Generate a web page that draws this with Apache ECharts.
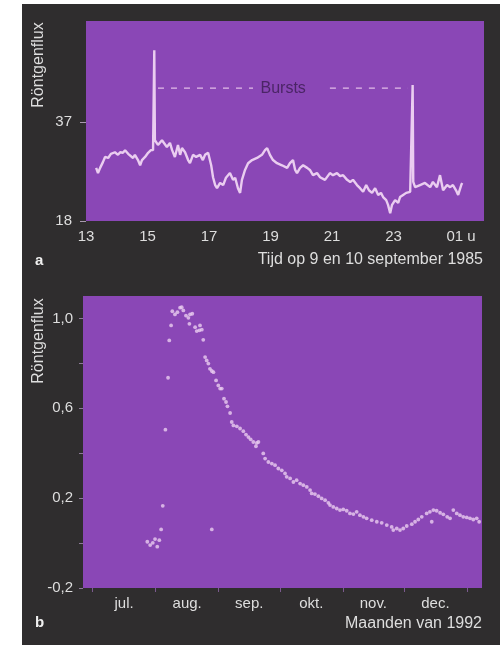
<!DOCTYPE html>
<html><head><meta charset="utf-8">
<script src="https://cdn.jsdelivr.net/npm/echarts@6/dist/echarts.min.js"></script>
<style>
html,body{margin:0;padding:0;background:#fff;}
#bg{position:absolute;left:22px;top:4px;width:478px;height:641px;background:#2f2d2e;}
#c{position:absolute;left:0;top:0;width:502px;height:645px;}
</style>
</head><body><div id="bg"></div><div id="c"></div>
<script>
// Panel a: X-ray flux, 9-10 September 1985
const hoursA = [
13.33,13.39,13.46,13.55,13.62,13.72,13.81,13.94,14.04,14.11,
14.20,14.27,14.37,14.43,14.53,14.59,14.69,14.76,14.82,14.92,
15.02,15.11,15.18,15.20,15.22,15.24,15.34,15.47,15.63,15.73,
15.80,15.89,15.99,16.06,16.12,16.22,16.32,16.38,16.48,16.58,
16.71,16.80,16.87,16.97,17.07,17.13,17.20,17.26,17.36,17.46,
17.55,17.68,17.78,17.85,17.94,18.01,18.07,18.17,18.27,18.40,
18.56,18.72,18.82,18.89,18.98,19.08,19.21,19.37,19.54,19.63,
19.73,19.80,19.86,19.96,20.06,20.19,20.28,20.38,20.51,20.61,
20.77,20.93,21.03,21.16,21.26,21.36,21.49,21.59,21.68,21.81,
21.91,22.01,22.11,22.20,22.30,22.40,22.50,22.59,22.66,22.76,
22.82,22.89,22.95,23.05,23.15,23.21,23.31,23.41,23.54,23.60,
23.62,23.64,23.70,23.86,24.02,24.19,24.28,24.41,24.51,24.61,
24.74,24.84,24.93,25.03,25.10,25.20,25.23];
const fluxA = [
28.2,27.2,28.2,29.3,30.3,30.1,30.9,31.2,30.7,31.2,
31.1,31.6,30.9,31.1,30.1,30.7,29.7,28.7,29.7,30.3,
31.1,31.6,31.6,31.8,50.8,33.5,32.6,33.5,32.2,33.0,
31.6,30.3,32.6,30.7,32.0,31.2,29.7,29.1,30.7,30.3,
30.7,29.7,30.7,31.1,28.7,26.4,24.9,24.3,25.3,24.9,
26.3,27.2,25.9,26.3,24.3,23.4,25.9,27.8,29.1,29.7,
30.1,30.7,31.6,32.0,30.7,29.7,29.1,28.7,28.2,29.1,
29.7,27.8,27.2,28.2,28.7,28.2,27.8,26.8,27.2,26.4,
25.9,27.2,26.8,27.2,26.6,26.8,25.9,25.5,25.9,24.9,
24.3,23.6,24.9,23.9,23.4,24.3,23.0,23.4,22.6,22.0,
21.1,19.5,21.1,22.0,21.5,22.6,23.0,23.4,23.6,23.6,
44.1,25.5,24.5,24.9,25.3,24.5,25.5,24.5,26.8,23.9,
24.9,24.5,24.9,23.9,23.0,24.9,25.3];
const burstSeg1X = [15.34, 18.43];
const burstSeg2X = [20.93, 23.47];
const burstLevel = 43.5;
const burstLabelX = 19.41;
const burstText = 'Bursts';
const xTicksA = [13,15,17,19,21,23,25];
const xTickLabelsA = ['13','15','17','19','21','23','01 u'];
const yTicksA = [18,37];

// Panel b: X-ray flux, months of 1992 (x = days since 1 July)
const daysB = [
26.9,28.3,29.6,30.7,31.8,32.8,33.7,34.5,35.8,37.1,
37.7,38.6,39.2,40.5,41.7,43.0,43.8,44.6,45.9,47.1,
47.6,47.9,49.0,50.4,51.2,52.5,52.8,53.7,54.4,55.3,
56.1,56.9,57.7,58.6,59.4,60.7,61.8,62.7,63.5,64.6,
65.6,66.3,67.6,68.4,69.2,70.9,72.5,74.1,75.4,76.6,
77.7,79.0,80.3,80.7,81.5,83.9,84.8,86.4,88.1,89.7,
91.3,93.0,94.6,95.4,97.1,98.7,100.3,102.0,103.6,105.3,
106.9,107.7,109.3,111.0,112.6,114.3,115.9,116.7,118.3,120.0,
121.6,123.2,124.9,126.5,128.2,129.8,131.4,133.1,134.7,137.2,
139.7,142.1,144.6,147.0,147.8,149.5,151.1,152.7,154.4,156.9,
158.5,160.1,161.8,164.2,165.8,167.5,169.1,170.8,172.4,174.3,
175.7,177.3,179.0,180.6,182.2,183.9,185.5,187.1,188.8,190.0,
58.6,166.7];
const fluxB = [
0.006,-0.009,0.001,0.018,-0.016,0.013,0.061,0.166,0.505,0.736,
0.902,0.969,1.032,1.018,1.028,1.048,1.050,1.036,1.013,1.003,
0.976,1.018,1.021,0.961,0.944,0.947,0.969,0.950,0.905,0.828,
0.813,0.799,0.776,0.766,0.761,0.724,0.702,0.688,0.688,0.643,
0.628,0.609,0.579,0.539,0.524,0.520,0.510,0.498,0.483,0.472,
0.462,0.450,0.431,0.446,0.450,0.399,0.376,0.361,0.354,0.347,
0.332,0.324,0.310,0.295,0.288,0.272,0.280,0.265,0.258,0.250,
0.236,0.221,0.218,0.209,0.199,0.191,0.179,0.169,0.161,0.154,
0.147,0.150,0.144,0.132,0.129,0.139,0.124,0.117,0.110,0.102,
0.095,0.090,0.080,0.072,0.058,0.065,0.058,0.065,0.076,0.084,
0.095,0.105,0.117,0.132,0.139,0.147,0.144,0.135,0.128,0.117,
0.110,0.147,0.132,0.124,0.117,0.114,0.110,0.105,0.110,0.095,
0.061,0.095];
const monthStarts = [0,31,62,92,123,153,184];
const monthNames = ['jul.','aug.','sep.','okt.','nov.','dec.'];
const yTicksB = [-0.2,0,0.2,0.4,0.6,0.8,1.0];
const yLabelsB = [-0.2,0.2,0.6,1.0];

const FONT = "'Liberation Sans', Arial, sans-serif";
const TXT = '#dedede';
const PURPLE = '#8a47b6';
const LINE = '#eacdf0';

const monthMids = monthNames.map((m, i) => (monthStarts[i] + monthStarts[i + 1]) / 2);

const chart = echarts.init(document.getElementById('c'), null, {renderer: 'canvas'});
chart.setOption({
  backgroundColor: 'transparent',
  animation: false,
  grid: [
    {left: 86, top: 21, width: 398, height: 200, show: true, backgroundColor: PURPLE, borderWidth: 0},
    {left: 83, top: 296, width: 399, height: 292, show: true, backgroundColor: PURPLE, borderWidth: 0}
  ],
  xAxis: [
    {gridIndex: 0, type: 'value', min: 13, max: 25.94,
      axisLine: {show: false, onZero: false}, axisTick: {show: false}, splitLine: {show: false},
      axisLabel: {customValues: xTicksA, margin: 8, color: TXT, fontSize: 15, fontFamily: FONT,
        formatter: v => {
          const s = xTickLabelsA[xTicksA.indexOf(v)];
          return s.indexOf(' ') >= 0 ? '{u|' + s + '}' : s;
        },
        rich: {u: {padding: [0, 0, 0, 12], color: TXT, fontSize: 15, fontFamily: FONT}}
      }},
    {gridIndex: 1, type: 'value', min: -4.7, max: 191.4,
      axisLine: {show: false, onZero: false}, splitLine: {show: false},
      axisTick: {show: true, customValues: monthStarts, length: 4, lineStyle: {color: '#7b5a8e', width: 1}},
      axisLabel: {customValues: monthMids, margin: 8, color: TXT, fontSize: 15, fontFamily: FONT,
        formatter: v => monthNames[monthMids.indexOf(v)]}}
  ],
  yAxis: [
    {gridIndex: 0, type: 'value', min: 18, max: 56.4,
      axisLine: {show: false, onZero: false}, splitLine: {show: false},
      axisTick: {show: true, customValues: yTicksA, length: 6, lineStyle: {color: '#a89aae', width: 1}},
      axisLabel: {customValues: yTicksA, margin: 14, color: TXT, fontSize: 15, fontFamily: FONT}},
    {gridIndex: 1, type: 'value', min: -0.2, max: 1.1,
      axisLine: {show: false, onZero: false}, splitLine: {show: false},
      axisTick: {show: true, customValues: yTicksB, length: 4, lineStyle: {color: '#8d7a97', width: 1}},
      axisLabel: {customValues: yLabelsB, margin: 10, color: TXT, fontSize: 15, fontFamily: FONT,
        formatter: v => v.toFixed(1).replace('.', ',')}}
  ],
  series: [
    {type: 'line', xAxisIndex: 0, yAxisIndex: 0, symbol: 'none',
      data: hoursA.map((h, i) => [h, fluxA[i]]),
      lineStyle: {color: LINE, width: 2.4}},
    {type: 'line', xAxisIndex: 0, yAxisIndex: 0, symbol: 'none',
      data: burstSeg1X.map(x => [x, burstLevel]),
      lineStyle: {color: '#e2bde8', width: 1.3, type: [6, 7]},
      markPoint: {symbol: 'rect', symbolSize: 1, itemStyle: {color: 'rgba(0,0,0,0)'},
        data: [{coord: [burstLabelX, burstLevel], value: burstText}],
        label: {show: true, position: 'inside', formatter: burstText, color: '#4b2566', fontSize: 16, fontFamily: FONT}}},
    {type: 'line', xAxisIndex: 0, yAxisIndex: 0, symbol: 'none',
      data: burstSeg2X.map(x => [x, burstLevel]),
      lineStyle: {color: '#e2bde8', width: 1.3, type: [6, 7]}},
    {type: 'scatter', xAxisIndex: 1, yAxisIndex: 1, symbol: 'circle', symbolSize: 3.8,
      data: daysB.map((d, i) => [d, fluxB[i]]),
      itemStyle: {color: LINE}}
  ],
  graphic: [
    {type: 'text', x: 39, y: 65, rotation: Math.PI / 2,
      style: {text: 'Röntgenflux', fill: TXT, font: '16px ' + FONT, textAlign: 'center', textVerticalAlign: 'middle'}},
    {type: 'text', x: 39, y: 341, rotation: Math.PI / 2,
      style: {text: 'Röntgenflux', fill: TXT, font: '16px ' + FONT, textAlign: 'center', textVerticalAlign: 'middle'}},
    {type: 'text', x: 35, y: 261,
      style: {text: 'a', fill: '#f0f0f0', font: 'bold 15px ' + FONT, textAlign: 'left', textVerticalAlign: 'middle'}},
    {type: 'text', x: 483, y: 260,
      style: {text: 'Tijd op 9 en 10 september 1985', fill: TXT, font: '16px ' + FONT, textAlign: 'right', textVerticalAlign: 'middle'}},
    {type: 'text', x: 35, y: 623,
      style: {text: 'b', fill: '#f0f0f0', font: 'bold 15px ' + FONT, textAlign: 'left', textVerticalAlign: 'middle'}},
    {type: 'text', x: 482, y: 624,
      style: {text: 'Maanden van 1992', fill: TXT, font: '16px ' + FONT, textAlign: 'right', textVerticalAlign: 'middle'}}
  ]
});
</script>
</body></html>
